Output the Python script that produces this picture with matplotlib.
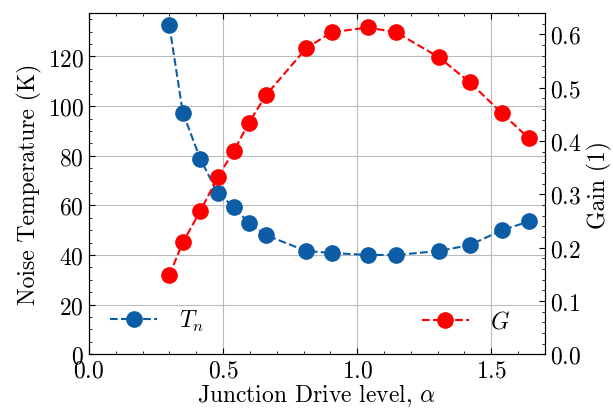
import matplotlib
matplotlib.use("Agg")
import matplotlib.pyplot as plt
from matplotlib.ticker import AutoMinorLocator, MultipleLocator

# ==============================
# STYLE (science-like look)
# ==============================
plt.rcParams['font.family'] = ['cmr10', 'DejaVu Serif']
plt.rcParams['mathtext.fontset'] = 'cm'
plt.rcParams['axes.formatter.use_mathtext'] = True
plt.rcParams['font.size'] = 17
plt.rcParams['xtick.direction'] = 'in'
plt.rcParams['ytick.direction'] = 'in'

# ==============================
# DATA
# ==============================
alpha = [0.30, 0.35, 0.415, 0.48, 0.54, 0.595, 0.66, 0.81, 0.905,
         1.04, 1.145, 1.305, 1.42, 1.54, 1.64]
noise_temp = [132.5, 97.4, 78.8, 65.0, 59.4, 53.0, 48.0, 41.6, 40.8,
              40.0, 40.0, 41.6, 44.0, 50.0, 53.5]
gain = [0.148, 0.21, 0.268, 0.332, 0.381, 0.433, 0.486, 0.574, 0.604,
        0.613, 0.604, 0.557, 0.51, 0.452, 0.405]

blue = '#0C5DA5'
red = '#FF0000'

# ==============================
# PLOT
# ==============================
fig, ax = plt.subplots(figsize=(6.13, 4.14), dpi=100)
fig.subplots_adjust(left=0.145, right=0.889, top=0.966, bottom=0.142)

ln1, = ax.plot(alpha, noise_temp, '--o', color=blue, ms=11, lw=1.5,
               label='$T_n$')
ax.set_xlim(0, 1.7)
ax.set_ylim(0, 137.5)
ax.xaxis.set_major_locator(MultipleLocator(0.5))
ax.yaxis.set_major_locator(MultipleLocator(20))
ax.xaxis.set_minor_locator(AutoMinorLocator())
ax.yaxis.set_minor_locator(AutoMinorLocator())
ax.tick_params(which='both', top=True)
ax.tick_params(which='major', length=4)
ax.tick_params(which='minor', length=2)
ax.tick_params(axis='x', pad=4)
ax.grid(True, color='#bbbbbb', lw=0.8)
ax.set_xlabel(r'Junction Drive level, $\alpha$', labelpad=0)
ax.set_ylabel('Noise Temperature (K)')
ax.legend(handles=[ln1], loc='lower left', frameon=False,
          bbox_to_anchor=(0.0, 0.0), handlelength=2.0, handletextpad=0.9)

ax2 = ax.twinx()
ln2, = ax2.plot(alpha, gain, '--o', color=red, ms=11, lw=1.5, label='$G$')
ax2.set_ylim(0, 0.64)
ax2.yaxis.set_major_locator(MultipleLocator(0.1))
ax2.yaxis.set_minor_locator(AutoMinorLocator())
ax2.tick_params(which='major', length=4)
ax2.tick_params(which='minor', length=2)
ax2.set_ylabel('Gain (1)')
ax2.legend(handles=[ln2], loc='lower right', frameon=False,
           bbox_to_anchor=(0.97, 0.0), handlelength=2.0, handletextpad=0.9)

plt.savefig('out.png', dpi=100)
